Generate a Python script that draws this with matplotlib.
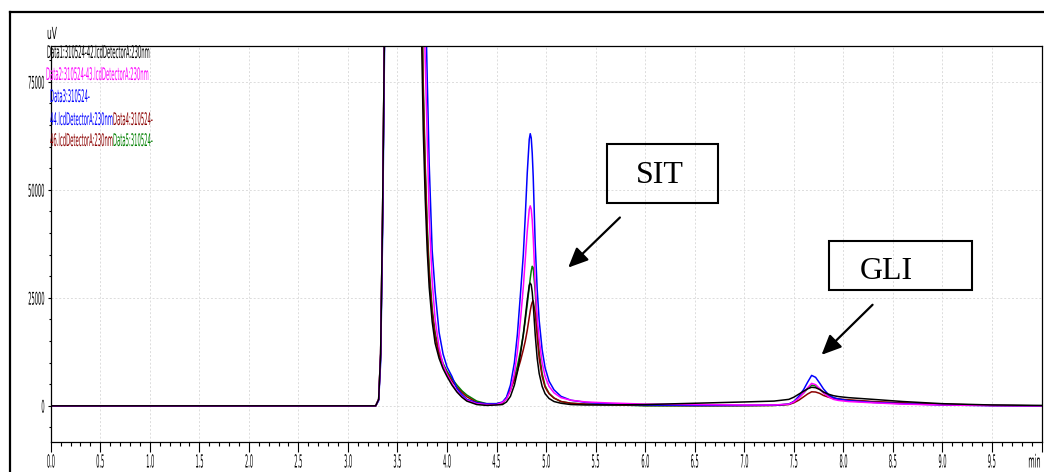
import numpy as np
import matplotlib
matplotlib.use('Agg')
import matplotlib.pyplot as plt
from matplotlib.patches import Rectangle
from matplotlib.lines import Line2D
from matplotlib.patheffects import AbstractPathEffect
from matplotlib.transforms import Affine2D
from matplotlib.ticker import MultipleLocator

# retention time grid (min), shared by all traces
time_min = [0.0, 1.0, 2.0, 3.0, 3.28, 3.31, 3.33, 3.35, 3.37, 3.40,
            3.70, 3.74, 3.76, 3.78, 3.80, 3.82, 3.85, 3.88, 3.92, 3.96,
            4.00, 4.05, 4.10, 4.15, 4.20, 4.30, 4.40, 4.50, 4.56, 4.60,
            4.64, 4.68, 4.71, 4.74, 4.77, 4.79, 4.81, 4.83, 4.84, 4.85,
            4.86, 4.87, 4.89, 4.91, 4.93, 4.96, 4.99, 5.03, 5.08, 5.15,
            5.25, 5.40, 5.60, 6.00, 6.50, 7.00, 7.30, 7.45, 7.50, 7.55,
            7.60, 7.64, 7.68, 7.72, 7.76, 7.80, 7.85, 7.90, 7.95, 8.05,
            8.30, 8.60, 9.00, 9.50, 10.00]

# detector signal (uV)
data1_uv = [0, 0, 0, 0, 0, 1500, 12000, 45000, 90000, 200000,
            200000, 90000, 64000, 48000, 36000, 27500, 19500, 14500, 11000, 8600,
            6800, 4800, 3200, 2000, 1100, 300, 100, 200, 300, 900,
            2200, 4800, 7800, 11800, 16500, 20500, 24500, 27900, 28400, 28000,
            26300, 23500, 16500, 11000, 7500, 4500, 2800, 1700, 1000, 600,
            300, 200, 200, 300, 600, 900, 1100, 1500, 2000, 2700,
            3400, 3950, 4300, 4200, 3800, 3200, 2700, 2350, 2150, 1900,
            1500, 1000, 500, 200, 100]
data2_uv = [0, 0, 0, 0, 0, 1500, 12000, 45000, 90000, 200000,
            200000, 130000, 98000, 80000, 62000, 44000, 29000, 20000, 13500, 9500,
            7300, 5200, 3400, 2200, 1300, 500, 300, 300, 800, 1600,
            3500, 7500, 12500, 19500, 27500, 34000, 40500, 45500, 46300, 45500,
            43000, 39000, 28000, 20300, 15400, 10000, 6800, 4500, 3000, 1900,
            1300, 900, 700, 400, 300, 200, 200, 400, 900, 1800,
            3000, 4200, 5200, 4900, 4000, 3000, 2100, 1500, 1250, 1000,
            700, 400, 200, 50, 0]
data3_uv = [0, 0, 0, 0, 0, 1200, 10000, 40000, 85000, 200000,
            200000, 160000, 125000, 98000, 76000, 56000, 36000, 26500, 17000, 12000,
            9000, 6800, 4000, 2600, 1500, 700, 500, 500, 900, 2000,
            4800, 10000, 16500, 25500, 35000, 44000, 54000, 61700, 63000, 62000,
            58500, 53000, 37500, 27000, 19800, 13000, 8800, 5700, 3700, 2200,
            1300, 800, 500, 200, 100, 100, 150, 400, 1000, 2200,
            3800, 5500, 7050, 6600, 5300, 3900, 2600, 1900, 1600, 1200,
            800, 500, 200, 50, 0]
data4_uv = [0, 0, 0, 0, 0, 1500, 12000, 45000, 90000, 200000,
            200000, 100000, 72000, 54000, 40000, 30000, 21500, 16000, 11800, 9300,
            7600, 5800, 4300, 3100, 2100, 800, 400, 400, 700, 1800,
            3700, 6000, 8000, 10300, 13000, 15000, 17500, 20500, 22000, 23200,
            24000, 24300, 21500, 16000, 11000, 6800, 4300, 2800, 1800, 1000,
            600, 400, 300, 100, 50, 50, 100, 300, 700, 1300,
            2100, 2750, 3250, 3200, 2900, 2400, 2000, 1750, 1600, 1400,
            1000, 700, 400, 100, 0]
data5_uv = [0, 0, 0, 0, 0, 1500, 12000, 45000, 90000, 200000,
            200000, 105000, 75000, 56000, 42000, 32000, 22500, 17000, 12500, 9800,
            8000, 6300, 4800, 3500, 2500, 1100, 500, 500, 700, 1800,
            3800, 6500, 9200, 12500, 16500, 19800, 23500, 27500, 29500, 31200,
            32300, 32000, 26500, 18500, 12500, 7500, 4600, 2900, 1800, 1000,
            600, 400, 300, 0, 0, 50, 100, 400, 1000, 1900,
            3000, 4000, 4800, 4600, 3900, 3000, 2300, 1800, 1500, 1300,
            900, 600, 300, 100, 0]

BLACK = '#000000'
MAGENTA = '#ff00ff'
BLUE = '#0000ff'
DARKRED = '#8b0000'
GREEN = '#008000'

W, H = 1044, 472


class Squeeze(AbstractPathEffect):
    """Draw text narrower/taller, like the condensed font of the instrument print."""
    def __init__(self, sx, sy=1.0, xa='left', ya='center'):
        super().__init__()
        self.sx = sx
        self.sy = sy
        self.xa = xa
        self.ya = ya

    def draw_path(self, renderer, gc, tpath, affine, rgbFace=None):
        ext = tpath.get_extents()
        x0 = {'left': 0.0, 'right': ext.x1, 'center': (ext.x0 + ext.x1) / 2}[self.xa]
        y0 = {'top': ext.y1, 'bottom': ext.y0, 'center': (ext.y0 + ext.y1) / 2}[self.ya]
        sq = Affine2D().translate(-x0, -y0).scale(self.sx, self.sy).translate(x0, y0)
        renderer.draw_path(gc, tpath, sq + affine, rgbFace)


def fx(px):
    return px / W


def fy(py):
    return 1 - py / H


fig = plt.figure(figsize=(W / 100, H / 100), dpi=100)
ax = fig.add_axes([fx(50.7), fy(441.7), fx(1041.5) - fx(50.7), fy(46) - fy(441.7)])

t = np.array(time_min)
ax.plot(t, data5_uv, color=GREEN, lw=1.1)
ax.plot(t, data4_uv, color=DARKRED, lw=1.1)
ax.plot(t, data3_uv, color=BLUE, lw=1.1)
ax.plot(t, data2_uv, color=MAGENTA, lw=1.1)
ax.plot(t, data1_uv, color=BLACK, lw=1.1)

ax.set_xlim(0, 10)
ax.set_ylim(-8300, 83300)

xt = np.arange(0, 10.01, 0.5)
ax.set_xticks(xt)
xlabels = ['%.1f' % v for v in xt]
xlabels[-1] = 'min'
ax.set_xticklabels(xlabels)
ax.set_yticks([0, 25000, 50000, 75000])
ax.set_yticklabels(['0', '25000', '50000', '75000'])
ax.xaxis.set_minor_locator(MultipleLocator(0.1))
ax.yaxis.set_minor_locator(MultipleLocator(5000))

ax.tick_params(axis='x', which='major', direction='out', length=7, width=0.8, pad=1.5, labelsize=13)
ax.tick_params(axis='x', which='minor', direction='out', length=3, width=0.8)
ax.tick_params(axis='y', which='major', direction='out', length=2.5, width=0.8, pad=1.5, labelsize=9)
ax.tick_params(axis='y', which='minor', direction='out', length=1.5, width=0.8)

xtl = ax.get_xticklabels()
for lab in xtl[:-1]:
    lab.set_path_effects([Squeeze(0.28, 1.0, 'center')])
xtl[-1].set_ha('right')
xtl[-1].set_path_effects([Squeeze(0.36, 1.0, 'right')])
for lab in ax.get_yticklabels():
    lab.set_path_effects([Squeeze(0.41, 1.4, 'right', 'center')])

ax.grid(True, which='major', color='#dcdcdc', ls=(0, (2, 2)), lw=0.7)
ax.set_axisbelow(True)
for sp in ax.spines.values():
    sp.set_linewidth(0.9)

# unit label
fig.text(fx(47), fy(34), 'uV', fontsize=12, va='center', ha='left',
         path_effects=[Squeeze(0.45)])

# trace legend printed by the data system
legend_rows = [
    (47, 53, 'Data1:310524-42.lcdDetectorA:230nm', BLACK),
    (46, 75, 'Data2:310524-43.lcdDetectorA:230nm', MAGENTA),
    (50, 97, 'Data3:310524-', BLUE),
    (50, 120, '44.lcdDetectorA:230nm', BLUE),
    (113, 120, 'Data4:310524-', DARKRED),
    (50, 141, '46.lcdDetectorA:230nm', DARKRED),
    (113, 141, 'Data5:310524-', GREEN),
]
for px, py, s, c in legend_rows:
    fig.text(fx(px), fy(py), s, color=c, fontsize=12.5, va='center', ha='left',
             path_effects=[Squeeze(0.304)])

# peak annotations
arrow_style = dict(arrowstyle='-|>,head_length=0.6,head_width=0.27', lw=1.6,
                   color='black', shrinkA=0, shrinkB=0, mutation_scale=20)

ax.add_patch(Rectangle((5.61, 47060), 1.12, 13540, fill=False, lw=1.5, ec='black', clip_on=False))
ax.text(6.148, 53300, 'SIT', family='Liberation Serif', fontsize=23, ha='center', va='center')
ax.annotate('', xy=(5.223, 32000), xytext=(5.745, 43600), arrowprops=arrow_style)

ax.add_patch(Rectangle((7.857, 26850), 1.443, 11420, fill=False, lw=1.5, ec='black', clip_on=False))
ax.text(8.429, 31020, 'GLI', family='Liberation Serif', fontsize=23, ha='center', va='center')
ax.annotate('', xy=(7.78, 11800), xytext=(8.295, 23400), arrowprops=arrow_style)

# outer frame of the printout
fig.add_artist(Line2D([fx(10), fx(10)], [0, fy(11.5)], transform=fig.transFigure, color='black', lw=1.6))
fig.add_artist(Line2D([fx(10), 1], [fy(11.5), fy(11.5)], transform=fig.transFigure, color='black', lw=1.6))

fig.savefig('out.png', dpi=100)
